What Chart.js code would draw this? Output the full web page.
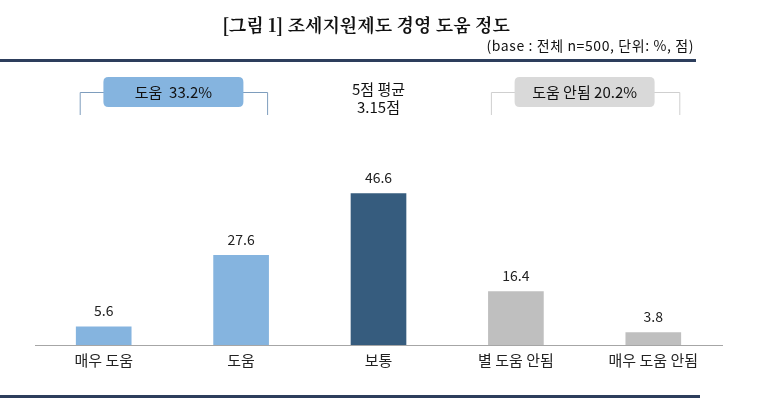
<!DOCTYPE html>
<html>
<head>
<meta charset="utf-8">
<script src="https://cdn.jsdelivr.net/npm/chart.js@4.4.0/dist/chart.umd.min.js"></script>
<style>
  html, body { margin: 0; padding: 0; background: #fff; }
  #wrap { position: relative; width: 768px; height: 416px; }
</style>
</head>
<body>
<div id="wrap"><canvas id="myChart" width="768" height="416"></canvas></div>
<script>
// chart data
var categories = ["매우 도움", "도움", "보통", "별 도움 안됨", "매우 도움 안됨"];
var values = [5.6, 27.6, 46.6, 16.4, 3.8];
var barColors = ["#85b4df", "#85b4df", "#365c7e", "#bfbfbf", "#bfbfbf"];

var titleText = "[그림 1] 조세지원제도 경영 도움 정도";
var subText = "(base : 전체 n=500, 단위: %, 점)";
var helpLabel = "도움  33.2%";
var noHelpLabel = "도움 안됨 20.2%";
var avgLines = ["5점 평균", "3.15점"];

var FONT = "'Noto Sans CJK KR', 'Noto Sans', sans-serif";

function roundRect(c, x, y, w, h, r) {
	c.beginPath();
	c.moveTo(x + r, y);
	c.lineTo(x + w - r, y);
	c.quadraticCurveTo(x + w, y, x + w, y + r);
	c.lineTo(x + w, y + h - r);
	c.quadraticCurveTo(x + w, y + h, x + w - r, y + h);
	c.lineTo(x + r, y + h);
	c.quadraticCurveTo(x, y + h, x, y + h - r);
	c.lineTo(x, y + r);
	c.quadraticCurveTo(x, y, x + r, y);
	c.closePath();
}

// draws title, rules, brackets and value labels
var decor = {
	id: "decor",
	afterDatasetsDraw: function(chart) {
		var c = chart.ctx;
		var xs = chart.scales.x;
		c.save();

		// title + subtitle
		c.fillStyle = "#111";
		c.textAlign = "center";
		c.textBaseline = "middle";
		c.font = "bold 18px 'Noto Serif CJK KR', " + FONT;
		c.fillText(titleText, 366, 25);
		c.font = "14px " + FONT;
		c.textAlign = "right";
		c.letterSpacing = "0.6px";
		c.fillText(subText, 694, 46);
		c.letterSpacing = "0px";

		// navy rules
		c.fillStyle = "#2d3e5c";
		c.fillRect(0, 59, 696, 3);
		c.fillRect(0, 395, 700, 3);

		// value labels above bars
		var meta = chart.getDatasetMeta(0);
		c.fillStyle = "#222";
		c.textAlign = "center";
		c.textBaseline = "bottom";
		c.font = "14px " + FONT;
		meta.data.forEach(function(bar, i) {
			c.fillText(values[i].toFixed(1), bar.x, bar.y - 9);
		});

		// brackets
		var x0 = xs.getPixelForValue(0), x1 = xs.getPixelForValue(1);
		var x3 = xs.getPixelForValue(3), x4 = xs.getPixelForValue(4);
		c.lineWidth = 1;
		c.strokeStyle = "#7e9dbd";
		c.beginPath();
		c.moveTo(x0 - 23.5, 115); c.lineTo(x0 - 23.5, 92.5); c.lineTo(x1 + 26.5, 92.5); c.lineTo(x1 + 26.5, 115);
		c.stroke();
		c.strokeStyle = "#cfcfcf";
		c.beginPath();
		c.moveTo(x3 - 24.5, 115); c.lineTo(x3 - 24.5, 92.5); c.lineTo(x4 + 26.5, 92.5); c.lineTo(x4 + 26.5, 115);
		c.stroke();

		// boxes
		var lx = (x0 + x1) / 2 + 1, rx = (x3 + x4) / 2;
		c.fillStyle = "#85b4df";
		roundRect(c, lx - 70, 77, 140, 30, 5);
		c.fill();
		c.fillStyle = "#d9d9d9";
		roundRect(c, rx - 70, 77, 140, 30, 5);
		c.fill();
		c.fillStyle = "#111";
		c.textBaseline = "middle";
		c.font = "15px " + FONT;
		c.fillText(helpLabel, lx, 92);
		c.fillText(noHelpLabel, rx, 92);

		// average
		c.font = "15px " + FONT;
		var mx = xs.getPixelForValue(2);
		c.fillText(avgLines[0], mx, 89);
		c.fillText(avgLines[1], mx, 107);

		c.restore();
	}
};

var ctx = document.getElementById("myChart").getContext("2d");
var chart = new Chart(ctx, {
	type: "bar",
	data: {
		labels: categories,
		datasets: [{
			data: values,
			backgroundColor: barColors,
			barThickness: 55
		}]
	},
	options: {
		responsive: false,
		animation: false,
		layout: { padding: { left: 35, right: 46, top: 150, bottom: 41 } },
		plugins: {
			legend: { display: false },
			tooltip: { enabled: false }
		},
		scales: {
			x: {
				grid: { display: false, drawTicks: false },
				border: { display: true, color: "#a6a6a6", width: 1 },
				ticks: { color: "#222", padding: 6, font: { family: FONT, size: 15 } }
			},
			y: {
				display: false,
				min: 0,
				max: 60
			}
		}
	},
	plugins: [decor]
});
</script>
</body>
</html>
